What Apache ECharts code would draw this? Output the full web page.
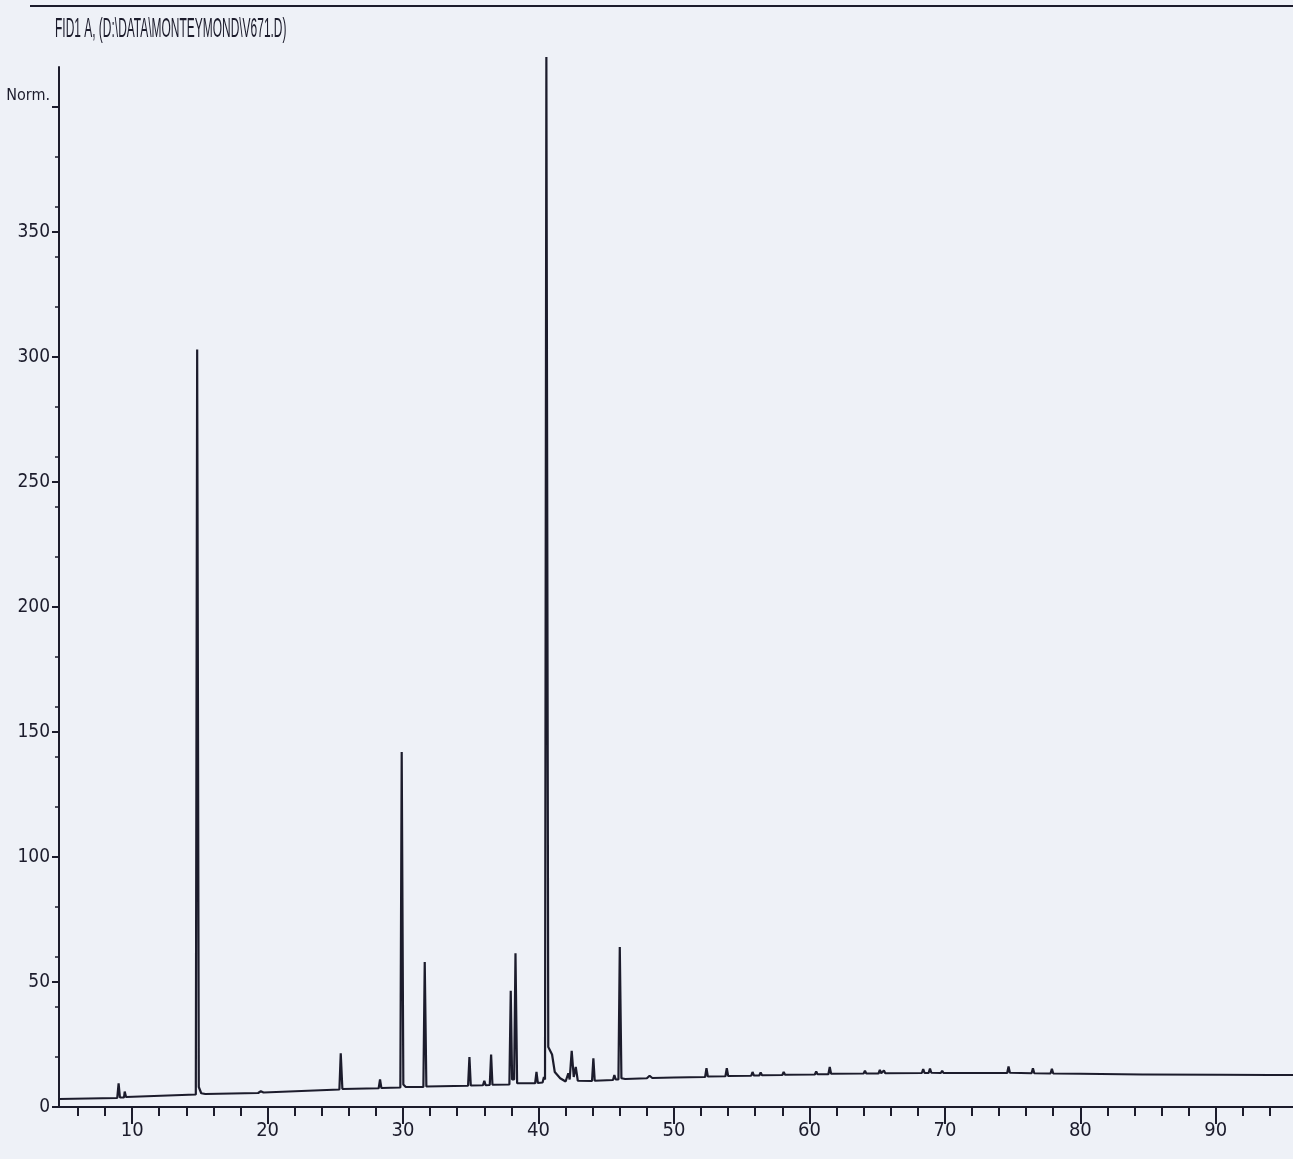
<!DOCTYPE html>
<html lang="en">
<head>
    <meta charset="UTF-8">
    <title>FID1 A chromatogram</title>
    <script src="https://cdn.jsdelivr.net/npm/echarts@6/dist/echarts.min.js"></script>
    <style>
        html, body {margin: 0; padding: 0; background: #eef1f7;}
        #main {width: 1293px; height: 1159px;}
    </style>
</head>
<body>
<div id="main"></div>
<script type="text/javascript">
    // trace: retention time (min), signal (Norm.)
    var signalTime = [
        4.6, 8.9, 9.0, 9.1, 9.4, 9.45, 9.55,
        14.7, 14.8, 14.92, 15.1, 15.4, 19.3, 19.5, 19.7,
        25.3, 25.4, 25.52, 28.2, 28.3, 28.4,
        29.8, 29.9, 30.02, 30.2, 31.5, 31.6, 31.72,
        34.8, 34.9, 35.0, 35.9, 36.0, 36.1, 36.4, 36.5, 36.6,
        37.85, 37.95, 38.05, 38.2, 38.3, 38.42,
        39.75, 39.85, 39.95, 40.3, 40.4, 40.48, 40.58, 40.72, 41.0, 41.2, 41.6, 42.0,
        42.1, 42.2, 42.3, 42.45, 42.6, 42.75, 42.9,
        43.95, 44.05, 44.15, 45.5, 45.6, 45.7, 45.9, 46.0, 46.12, 46.4,
        48.0, 48.2, 48.4, 50.0,
        52.3, 52.4, 52.5, 53.8, 53.9, 54.0,
        55.7, 55.8, 55.9, 56.3, 56.4, 56.5, 58.0, 58.1, 58.2,
        60.4, 60.5, 60.6, 61.4, 61.5, 61.6, 64.0, 64.1, 64.2,
        65.1, 65.2, 65.3, 65.5, 65.6, 68.3, 68.4, 68.5, 68.8, 68.9, 69.0,
        69.7, 69.8, 69.9, 70.9, 71.0, 71.1, 72.2, 72.3, 72.4, 73.1, 73.2, 73.3,
        74.6, 74.7, 74.8, 76.4, 76.5, 76.6, 77.8, 77.9, 78.0,
        80.0, 84.6, 84.7, 84.8, 90.1, 90.2, 90.3, 94.0, 95.7
    ];
    var signalValue = [
        3.2, 3.6, 9.5, 3.8, 3.8, 6.2, 4.0,
        5.0, 303, 8, 5.5, 5.2, 5.6, 6.3, 5.8,
        7.0, 21.5, 7.2, 7.5, 11, 7.6,
        7.8, 142, 9, 8, 8, 58, 8.2,
        8.5, 20, 8.6, 8.7, 10.5, 8.7, 8.8, 21, 8.9,
        9, 46.5, 11, 11, 61.5, 9.5,
        9.5, 14, 9.6, 9.8, 12, 11, 420, 24, 21, 14, 11.5, 10.2,
        10.5, 13.5, 11, 22.5, 12, 16, 10.5,
        10.4, 19.5, 10.5, 10.8, 12.8, 11, 11, 64, 11.5, 11.2,
        11.5, 12.5, 11.6, 11.8,
        12, 15.5, 12.2, 12.3, 15.5, 12.4,
        12.5, 14, 12.6, 12.6, 13.8, 12.7, 12.8, 14, 12.9,
        13, 14.2, 13.1, 13.1, 16, 13.3, 13.4, 14.5, 13.4,
        13.4, 14.8, 13.5, 14.6, 13.5, 13.6, 15.2, 13.6, 13.6, 15.4, 13.7,
        13.6, 14.5, 13.6, 13.6, 14.3, 13.6, 13.6, 14.2, 13.6, 13.6, 14.2, 13.6,
        13.6, 16.2, 13.7, 13.5, 15.5, 13.5, 13.4, 15.3, 13.4,
        13.3, 13.0, 12.2, 13.0, 12.9, 13.6, 12.9, 12.8, 12.8
    ];
    var majorTicks = [10, 20, 30, 40, 50, 60, 70, 80, 90];
    var minorTicks = [6, 8, 12, 14, 16, 18, 22, 24, 26, 28, 32, 34, 36, 38, 42, 44, 46, 48,
        52, 54, 56, 58, 62, 64, 66, 68, 72, 74, 76, 78, 82, 84, 86, 88, 92, 94];
    var yTicks = [0, 50, 100, 150, 200, 250, 300, 350, 400];
    var titleText = 'FID1 A, (D:\\DATA\\MONTEYMOND\\V671.D)';

    var ink = '#1c1c2c';
    var narrow = "'Liberation Sans Narrow', 'DejaVu Sans Condensed', sans-serif";

    var data = [];
    for (var i = 0; i < signalTime.length; i++) {
        data.push([signalTime[i], signalValue[i]]);
    }

    var myChart = echarts.init(document.getElementById('main'));
    myChart.setOption({
        backgroundColor: '#eef1f7',
        animation: false,
        grid: {left: 59, right: 0, top: 67, bottom: 52, outerBoundsMode: 'none'},
        graphic: [
            {type: 'line', shape: {x1: 30, y1: 6, x2: 1293, y2: 6}, style: {stroke: ink, lineWidth: 2}},
            {type: 'text', left: 55, top: 16, scaleX: 0.46, scaleY: 1.05,
                style: {text: titleText, font: '26px "Liberation Sans", Arial, sans-serif', fill: ink}}
        ],
        xAxis: [
            {
                type: 'value', min: 4.6, max: 95.7,
                axisLine: {lineStyle: {color: ink, width: 2}},
                axisTick: {show: true, customValues: majorTicks, length: 17, lineStyle: {color: ink, width: 2}},
                axisLabel: {customValues: majorTicks, color: ink, fontSize: 20, fontFamily: narrow, margin: 14},
                splitLine: {show: false}
            },
            {
                type: 'value', min: 4.6, max: 95.7, position: 'bottom',
                axisLine: {show: false},
                axisTick: {show: true, customValues: minorTicks, length: 9, lineStyle: {color: ink, width: 2}},
                axisLabel: {show: false},
                splitLine: {show: false}
            }
        ],
        yAxis: {
            type: 'value', min: 0, max: 416,
            axisLine: {show: true, lineStyle: {color: ink, width: 2}},
            axisTick: {show: true, customValues: yTicks, length: 7, lineStyle: {color: ink, width: 2}},
            minorTick: {show: true, splitNumber: 5, length: 4, lineStyle: {color: ink, width: 1.5}},
            axisLabel: {
                customValues: yTicks, color: ink, fontSize: 19, fontFamily: narrow, margin: 9,
                formatter: function (v) { return v === 400 ? '{n|Norm.}' : v; },
                rich: {n: {fontSize: 16, fontFamily: narrow, color: ink, padding: [0, 0, 22, 0]}}
            },
            splitLine: {show: false}
        },
        series: [{
            type: 'line',
            data: data,
            showSymbol: false,
            clip: false,
            lineStyle: {color: ink, width: 2.2},
            z: 3
        }]
    });
</script>
</body>
</html>
